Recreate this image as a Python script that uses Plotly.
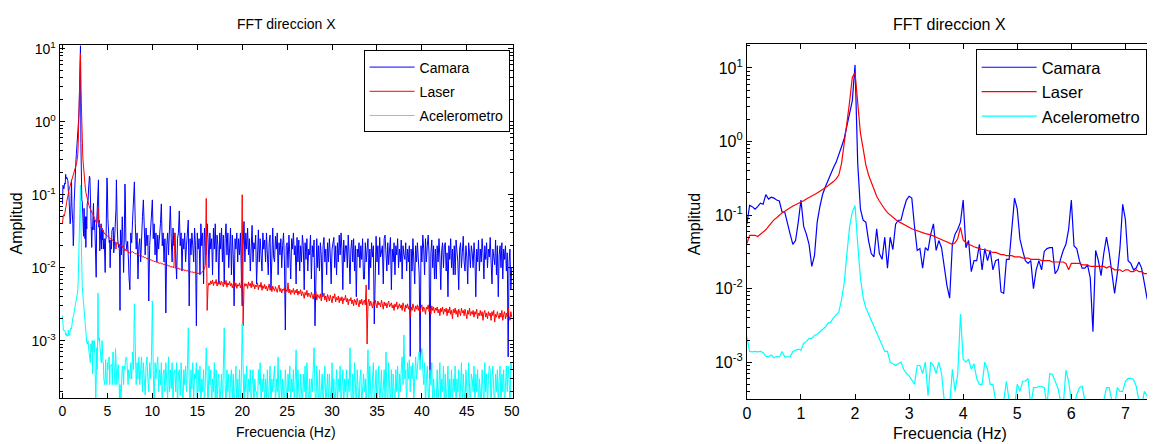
import numpy as np
import plotly.graph_objects as go

# ---------------- data ----------------
# frequency grids (Hz)
freq_lo = np.round(np.arange(0, 7.5 + 1e-9, 0.05), 2)    # 0 .. 7.5 Hz
freq_hi = np.round(np.arange(7.6, 50.0 + 1e-9, 0.1), 1)   # 7.6 .. 50 Hz

series_names = ["Camara", "Laser", "Acelerometro"]

camara_lo = [
    0.075, 0.135, 0.13, 0.12, 0.13, 0.145, 0.14, 0.19, 0.165, 0.175,
    0.17, 0.16, 0.155, 0.11, 0.11, 0.075, 0.055, 0.04, 0.045, 0.08,
    0.16, 0.07, 0.055, 0.04, 0.02, 0.028, 0.08, 0.13, 0.19, 0.24,
    0.3, 0.37, 0.44, 0.52, 0.65, 0.85, 1.1, 1.6, 2.5, 3.6,
    11.0, 0.5, 0.12, 0.085, 0.08, 0.045, 0.03, 0.027, 0.065, 0.03,
    0.025, 0.05, 0.019, 0.05, 0.034, 0.075, 0.085, 0.085, 0.12, 0.16,
    0.18, 0.17, 0.07, 0.033, 0.035, 0.019, 0.036, 0.033, 0.055, 0.076,
    0.033, 0.045, 0.036, 0.02, 0.011, 0.0074, 0.04, 0.055, 0.064, 0.08,
    0.16, 0.036, 0.045, 0.017, 0.024, 0.024, 0.04, 0.018, 0.035, 0.024,
    0.033, 0.018, 0.024, 0.025, 0.009, 0.0086, 0.025, 0.025, 0.068, 0.17,
    0.12, 0.047, 0.033, 0.024, 0.022, 0.024, 0.01, 0.018, 0.024, 0.018,
    0.032, 0.035, 0.036, 0.036, 0.016, 0.018, 0.025, 0.033, 0.04, 0.064,
    0.16, 0.038, 0.035, 0.024, 0.019, 0.019, 0.021, 0.014, 0.0026, 0.033,
    0.024, 0.015, 0.03, 0.05, 0.031, 0.015, 0.0086, 0.016, 0.036, 0.14,
    0.087, 0.024, 0.022, 0.018, 0.019, 0.023, 0.019, 0.012, 0.0074, 0.006,
    0.005,
]

laser_lo = [
    0.041, 0.053, 0.053, 0.053, 0.051, 0.055, 0.058, 0.063, 0.07, 0.078,
    0.086, 0.092, 0.1, 0.107, 0.113, 0.12, 0.127, 0.133, 0.138, 0.143,
    0.15, 0.156, 0.165, 0.172, 0.18, 0.19, 0.2, 0.21, 0.22, 0.235,
    0.25, 0.265, 0.285, 0.31, 0.35, 0.5, 0.9, 1.8, 3.5, 7.5,
    8.6, 3.0, 1.3, 0.8, 0.48, 0.35, 0.28, 0.22, 0.18, 0.155,
    0.135, 0.12, 0.108, 0.1, 0.093, 0.087, 0.082, 0.078, 0.074, 0.071,
    0.068, 0.065, 0.063, 0.061, 0.059, 0.057, 0.056, 0.055, 0.054, 0.052,
    0.05, 0.048, 0.047, 0.045, 0.043, 0.041, 0.04, 0.042, 0.048, 0.068,
    0.046, 0.042, 0.04, 0.039, 0.037, 0.036, 0.035, 0.034, 0.034, 0.033,
    0.032, 0.031, 0.031, 0.03, 0.029, 0.029, 0.028, 0.028, 0.028, 0.027,
    0.027, 0.027, 0.026, 0.026, 0.026, 0.025, 0.025, 0.025, 0.025, 0.024,
    0.024, 0.024, 0.024, 0.023, 0.023, 0.023, 0.023, 0.023, 0.022, 0.018,
    0.022, 0.022, 0.022, 0.022, 0.021, 0.021, 0.021, 0.02, 0.02, 0.02,
    0.02, 0.02, 0.02, 0.019, 0.02, 0.019, 0.018, 0.018, 0.018, 0.017,
    0.018, 0.018, 0.017, 0.017, 0.018, 0.017, 0.017, 0.016, 0.016, 0.016,
    0.016,
]

acel_lo = [
    0.0022, 0.0014, 0.00138, 0.0014, 0.00138, 0.0014, 0.00135, 0.0012, 0.00118, 0.00125,
    0.00115, 0.0012, 0.00117, 0.0014, 0.00118, 0.00117, 0.00118, 0.0014, 0.00145, 0.0015,
    0.00145, 0.0018, 0.0019, 0.0021, 0.0021, 0.0023, 0.0024, 0.0026, 0.0028, 0.003,
    0.0034, 0.0035, 0.004, 0.0044, 0.0048, 0.007, 0.012, 0.03, 0.07, 0.11,
    0.135, 0.04, 0.014, 0.0075, 0.0055, 0.0045, 0.0037, 0.003, 0.0025, 0.002,
    0.0017, 0.0014, 0.0014, 0.001, 0.00095, 0.0009, 0.00095, 0.001, 0.0008, 0.0007,
    0.00065, 0.00058, 0.0005, 0.0009, 0.0009, 0.0007, 0.001, 0.00035, 0.001, 0.0009,
    0.0007, 0.001, 0.0007, 0.0003, 0.00013, 0.00025, 0.0008, 0.0004, 0.0007, 0.0045,
    0.0011, 0.001, 0.0011, 0.0008, 0.00095, 0.0006, 0.0005, 0.0005, 0.001, 0.0008,
    0.0005, 0.0005, 0.0003, 0.00025, 0.00025, 0.0003, 0.00055, 0.0003, 0.00025, 0.00025,
    0.0005, 0.0004, 0.00055, 0.00055, 0.0006, 0.00025, 0.00045, 0.00045, 0.00047, 0.00047,
    0.00045, 0.00025, 0.0007, 0.00068, 0.00055, 0.00045, 0.0003, 0.00025, 0.00078, 0.00055,
    0.0003, 0.00025, 0.00036, 0.00045, 0.00047, 0.0003, 0.00025, 0.00015, 0.00025, 0.00022,
    0.00014, 0.00025, 0.0003, 0.00045, 0.00045, 0.0003, 0.00025, 0.00045, 0.0004, 0.0004,
    0.00055, 0.0006, 0.0006, 0.00058, 0.00047, 0.0003, 0.00025, 0.0004, 0.00035, 0.0003,
    0.0003,
]

# 7.6 .. 50 Hz, one row per Hz (row k starts at 7.6 + k Hz)
camara_hi = [
    0.03, 0.022, 0.045, 0.08, 0.15, 0.04, 0.018, 0.03, 0.007, 0.02,
    0.025, 0.012, 0.03, 0.05, 0.085, 0.03, 0.015, 0.035, 0.02, 0.028,
    0.0035, 0.02, 0.03, 0.045, 0.085, 0.025, 0.04, 0.015, 0.03, 0.012,
    0.028, 0.018, 0.035, 0.04, 0.075, 0.02, 0.03, 0.012, 0.025, 0.0024,
    0.02, 0.03, 0.015, 0.04, 0.07, 0.025, 0.012, 0.035, 0.02, 0.03,
    0.015, 0.007, 0.025, 0.03, 0.06, 0.02, 0.03, 0.009, 0.025, 0.018,
    0.03, 0.012, 0.02, 0.035, 0.045, 0.003, 0.025, 0.015, 0.03, 0.02,
    0.012, 0.035, 0.02, 0.0016, 0.03, 0.018, 0.025, 0.008, 0.04, 0.02,
    0.03, 0.006, 0.035, 0.02, 0.015, 0.04, 0.025, 0.01, 0.03, 0.018,
    0.025, 0.008, 0.035, 0.018, 0.04, 0.012, 0.028, 0.02, 0.006, 0.03,
    0.018, 0.035, 0.012, 0.028, 0.006, 0.025, 0.04, 0.015, 0.03, 0.01,
    0.02, 0.035, 0.008, 0.028, 0.015, 0.003, 0.025, 0.018, 0.03, 0.012,
    0.025, 0.015, 0.03, 0.01, 0.003, 0.02, 0.043, 0.012, 0.03, 0.018,
    0.035, 0.015, 0.025, 0.009, 0.03, 0.038, 0.012, 0.022, 0.018, 0.028,
    0.006, 0.02, 0.033, 0.012, 0.025, 0.015, 0.009, 0.03, 0.018, 0.024,
    0.012, 0.03, 0.016, 0.008, 0.022, 0.028, 0.005, 0.02, 0.035, 0.014,
    0.012, 0.027, 0.018, 0.03, 0.008, 0.022, 0.015, 0.025, 0.01, 0.02,
    0.03, 0.012, 0.0014, 0.02, 0.022, 0.01, 0.028, 0.015, 0.007, 0.025,
    0.018, 0.03, 0.015, 0.02, 0.006, 0.026, 0.012, 0.024, 0.009, 0.02,
    0.012, 0.028, 0.02, 0.005, 0.022, 0.013, 0.025, 0.009, 0.018, 0.015,
    0.028, 0.007, 0.02, 0.014, 0.024, 0.0016, 0.015, 0.025, 0.01, 0.02,
    0.009, 0.022, 0.015, 0.004, 0.02, 0.026, 0.012, 0.018, 0.008, 0.022,
    0.012, 0.025, 0.015, 0.006, 0.018, 0.022, 0.026, 0.01, 0.02, 0.008,
    0.022, 0.012, 0.028, 0.015, 0.03, 0.018, 0.005, 0.024, 0.012, 0.02,
    0.02, 0.01, 0.028, 0.015, 0.006, 0.018, 0.024, 0.012, 0.025, 0.009,
    0.02, 0.004, 0.018, 0.014, 0.022, 0.01, 0.02, 0.013, 0.025, 0.007,
    0.007, 0.022, 0.012, 0.018, 0.025, 0.005, 0.018, 0.01, 0.022, 0.014,
    0.02, 0.0017, 0.015, 0.027, 0.012, 0.02, 0.008, 0.026, 0.014, 0.018,
    0.02, 0.006, 0.025, 0.028, 0.015, 0.009, 0.022, 0.011, 0.018, 0.026,
    0.005, 0.018, 0.012, 0.022, 0.008, 0.02, 0.015, 0.025, 0.01, 0.018,
    0.012, 0.024, 0.007, 0.02, 0.015, 0.013, 0.022, 0.009, 0.018, 0.012,
    0.02, 0.00061, 0.018, 0.009, 0.025, 0.014, 0.006, 0.02, 0.012, 0.022,
    0.015, 0.008, 0.00055, 0.02, 0.012, 0.028, 0.018, 0.008, 0.025, 0.012,
    0.02, 0.028, 0.015, 0.0003, 0.016, 0.024, 0.01, 0.02, 0.007, 0.018,
    0.007, 0.02, 0.012, 0.025, 0.014, 0.005, 0.017, 0.022, 0.01, 0.02,
    0.022, 0.009, 0.016, 0.004, 0.02, 0.013, 0.025, 0.01, 0.018, 0.008,
    0.02, 0.008, 0.024, 0.015, 0.012, 0.005, 0.018, 0.022, 0.01, 0.016,
    0.027, 0.012, 0.009, 0.02, 0.014, 0.006, 0.022, 0.016, 0.01, 0.02,
    0.016, 0.01, 0.022, 0.014, 0.004, 0.018, 0.012, 0.024, 0.009, 0.018,
    0.012, 0.025, 0.016, 0.007, 0.02, 0.013, 0.022, 0.01, 0.018, 0.014,
    0.026, 0.012, 0.006, 0.018, 0.015, 0.011, 0.024, 0.008, 0.02, 0.004,
    0.015, 0.02, 0.01, 0.022, 0.007, 0.018, 0.013, 0.02, 0.009, 0.016,
    0.0006, 0.012, 0.018, 0.005, 0.01,
]

laser_hi = [
    0.0167, 0.0163, 0.0166, 0.016, 0.0158, 0.0155, 0.0157, 0.0151, 0.0152, 0.0148,
    0.0146, 0.0149, 0.0143, 0.0141, 0.0143, 0.0137, 0.0139, 0.0134, 0.0135, 0.0131,
    0.013, 0.0132, 0.0127, 0.0128, 0.0124, 0.0125, 0.0121, 0.0123, 0.0119, 0.012,
    0.0118, 0.0119, 0.0115, 0.0117, 0.0113, 0.0114, 0.0111, 0.0112, 0.0108, 0.011,
    0.0107, 0.0109, 0.0105, 0.0107, 0.0103, 0.0105, 0.0101, 0.0104, 0.0099, 0.03,
    0.0098, 0.0101, 0.0097, 0.0099, 0.0095, 0.0097, 0.0094, 0.0096, 0.0092, 0.0095,
    0.0091, 0.0093, 0.009, 0.0092, 0.0088, 0.009, 0.0087, 0.0089, 0.0086, 0.0088,
    0.0085, 0.0087, 0.0084, 0.0086, 0.0083, 0.0085, 0.0082, 0.0084, 0.0083, 0.0086,
    0.0088, 0.0092, 0.0098, 0.0108, 0.089, 0.0026, 0.0055, 0.0062, 0.0058, 0.0066,
    0.006, 0.0068, 0.0057, 0.0064, 0.0061, 0.0069, 0.0056, 0.0063, 0.0059, 0.0066,
    0.0058, 0.0065, 0.0061, 0.0055, 0.0064, 0.0059, 0.0067, 0.0054, 0.0062, 0.0058,
    0.0065, 0.0056, 0.0061, 0.0053, 0.006, 0.0064, 0.0055, 0.0062, 0.0052, 0.0059,
    0.0056, 0.0062, 0.0053, 0.0059, 0.1, 0.0016, 0.0054, 0.0061, 0.0056, 0.006,
    0.0052, 0.0064, 0.0057, 0.0061, 0.0053, 0.0066, 0.0055, 0.0059, 0.0051, 0.0058,
    0.0055, 0.0062, 0.005, 0.0058, 0.0054, 0.0063, 0.0049, 0.0057, 0.0052, 0.0059,
    0.0051, 0.0056, 0.0048, 0.0055, 0.006, 0.0049, 0.0054, 0.0047, 0.0056, 0.0051,
    0.0048, 0.0055, 0.005, 0.0046, 0.0053, 0.0058, 0.0047, 0.0052, 0.0045, 0.0051,
    0.0049, 0.0054, 0.0044, 0.005, 0.0047, 0.0062, 0.0045, 0.0051, 0.0043, 0.0049,
    0.0046, 0.0052, 0.0043, 0.0049, 0.0045, 0.0051, 0.0042, 0.0048, 0.0044, 0.005,
    0.0041, 0.0047, 0.0044, 0.0038, 0.0046, 0.0042, 0.0049, 0.004, 0.0045, 0.0043,
    0.0039, 0.0046, 0.0042, 0.0037, 0.0044, 0.004, 0.0047, 0.0036, 0.0043, 0.0041,
    0.0038, 0.0044, 0.0035, 0.0042, 0.004, 0.0045, 0.0036, 0.0041, 0.0034, 0.0043,
    0.0039, 0.0035, 0.0042, 0.0037, 0.0033, 0.0041, 0.0038, 0.0044, 0.0034, 0.0039,
    0.0036, 0.0041, 0.0033, 0.0039, 0.0035, 0.004, 0.0032, 0.0038, 0.0036, 0.0042,
    0.0034, 0.0038, 0.0031, 0.0037, 0.0035, 0.0039, 0.0032, 0.0036, 0.003, 0.0037,
    0.0035, 0.0031, 0.0038, 0.0033, 0.0029, 0.0036, 0.0032, 0.0037, 0.0031, 0.0034,
    0.0036, 0.0031, 0.0058, 0.0009, 0.0033, 0.0037, 0.003, 0.0035, 0.0032, 0.0028,
    0.0034, 0.003, 0.0036, 0.0032, 0.0028, 0.0035, 0.0031, 0.0033, 0.0029, 0.0036,
    0.0031, 0.0027, 0.0034, 0.003, 0.0033, 0.0028, 0.0032, 0.0035, 0.0029, 0.0031,
    0.0033, 0.0028, 0.0031, 0.0026, 0.0032, 0.0029, 0.0034, 0.0027, 0.003, 0.0032,
    0.0028, 0.0031, 0.0026, 0.0033, 0.0029, 0.0025, 0.0031, 0.0028, 0.0032, 0.0027,
    0.003, 0.0021, 0.0029, 0.0026, 0.0032, 0.0028, 0.0025, 0.003, 0.0027, 0.0031,
    0.0026, 0.003, 0.0024, 0.0028, 0.0031, 0.0025, 0.0029, 0.0027, 0.0023, 0.0029,
    0.0027, 0.0031, 0.0025, 0.0028, 0.0023, 0.003, 0.0026, 0.0029, 0.0024, 0.0028,
    0.0026, 0.0029, 0.0024, 0.0027, 0.0022, 0.0028, 0.0025, 0.0029, 0.0023, 0.0027,
    0.0025, 0.0028, 0.0022, 0.0027, 0.0024, 0.0029, 0.0023, 0.0026, 0.002, 0.0027,
    0.0024, 0.0028, 0.0023, 0.0026, 0.0021, 0.0027, 0.0025, 0.0022, 0.0028, 0.0024,
    0.0026, 0.0022, 0.0027, 0.0024, 0.002, 0.0026, 0.0023, 0.0028, 0.0022, 0.0025,
    0.0023, 0.0026, 0.0021, 0.0025, 0.0023, 0.0027, 0.002, 0.0024, 0.0022, 0.0026,
    0.0022, 0.0025, 0.0019, 0.0024, 0.0026, 0.0021, 0.0024, 0.002, 0.0025, 0.0022,
    0.0024, 0.0019, 0.0025, 0.0022, 0.0026, 0.0018, 0.0023, 0.0021, 0.0025, 0.0022,
    0.002, 0.0024, 0.0021, 0.0026, 0.0019, 0.0023, 0.0025, 0.002, 0.0024, 0.0021,
    0.0028, 0.0022, 0.0019, 0.0025, 0.0021,
]

acel_hi = [
    0.0005, 0.0003, 0.0007, 0.0004, 0.0032, 0.0006, 0.00025, 0.0005, 0.0003, 0.0006,
    0.00025, 0.0004, 0.0006, 0.0002, 0.0005, 0.0003, 0.00018, 0.00045, 0.0006, 0.0003,
    0.0002, 0.0005, 0.0003, 0.0006, 0.0035, 0.0004, 0.00012, 0.0005, 0.0003, 0.00045,
    0.0006, 0.0002, 0.0004, 0.00025, 0.0005, 0.00012, 0.00035, 0.0004, 0.0002, 0.0005,
    0.0003, 0.00015, 0.0006, 0.0002, 0.0004, 0.00022, 0.0005, 0.00012, 0.00035, 0.0004,
    0.0002, 0.0005, 0.00012, 0.00035, 0.0004, 0.00018, 0.0005, 0.0003, 0.00012, 0.0004,
    0.00025, 0.00045, 0.0002, 0.0004, 0.0015, 0.0003, 0.00012, 0.0004, 0.00022, 0.0005,
    0.00015, 0.00035, 0.0003, 0.0005, 0.00012, 0.0004, 0.0002, 0.00045, 0.00012, 0.0003,
    0.0002, 0.0004, 0.00012, 0.0003, 0.0008, 0.0003, 0.00012, 0.00045, 0.00025, 0.0004,
    0.00012, 0.0003, 0.0002, 0.0005, 0.00015, 0.0004, 0.00012, 0.0003, 0.00035, 0.00012,
    0.0002, 0.00035, 0.00012, 0.0004, 0.0015, 0.00025, 0.00012, 0.0004, 0.0002, 0.00035,
    0.00012, 0.0003, 0.0004, 0.00015, 0.00035, 0.00012, 0.0003, 0.00045, 0.00012, 0.0003,
    0.00015, 0.0004, 0.00012, 0.0003, 0.0017, 0.0003, 0.00012, 0.00035, 0.0002, 0.00045,
    0.00012, 0.0003, 0.0002, 0.0004, 0.00012, 0.00025, 0.0004, 0.00012, 0.0003, 0.0002,
    0.0002, 0.00012, 0.0004, 0.00025, 0.0005, 0.00012, 0.0003, 0.0002, 0.00035, 0.00012,
    0.0003, 0.00015, 0.0004, 0.00012, 0.00025, 0.00045, 0.00012, 0.0003, 0.0002, 0.0004,
    0.00045, 0.00012, 0.0003, 0.0002, 0.0006, 0.00012, 0.00025, 0.0004, 0.00012, 0.0003,
    0.0002, 0.00012, 0.0004, 0.00025, 0.00012, 0.00035, 0.0002, 0.00045, 0.00012, 0.0003,
    0.0002, 0.0004, 0.00012, 0.0003, 0.00075, 0.00012, 0.0004, 0.0002, 0.00012, 0.00035,
    0.0002, 0.00012, 0.00035, 0.0002, 0.00045, 0.00012, 0.0005, 0.0002, 0.00012, 0.0003,
    0.00012, 0.0003, 0.0002, 0.0004, 0.0008, 0.0002, 0.00012, 0.00045, 0.00025, 0.00012,
    0.0004, 0.00012, 0.0002, 0.00035, 0.00012, 0.0003, 0.00045, 0.00012, 0.0002, 0.00035,
    0.00012, 0.00035, 0.0002, 0.00012, 0.0005, 0.00015, 0.0003, 0.00012, 0.0002, 0.0004,
    0.00012, 0.0003, 0.0002, 0.00045, 0.00012, 0.00025, 0.0004, 0.00012, 0.0003, 0.0002,
    0.0004, 0.00012, 0.0003, 0.0002, 0.0008, 0.0002, 0.00012, 0.00035, 0.00012, 0.0005,
    0.0002, 0.00012, 0.0004, 0.0002, 0.00012, 0.0003, 0.0004, 0.00012, 0.0002, 0.00035,
    0.0002, 0.0003, 0.00012, 0.00045, 0.00075, 0.00015, 0.00045, 0.0002, 0.00012, 0.0003,
    0.0005, 0.00012, 0.0002, 0.0004, 0.00012, 0.0003, 0.00045, 0.00012, 0.0002, 0.0004,
    0.00012, 0.0003, 0.0004, 0.00015, 0.0007, 0.0002, 0.00012, 0.0005, 0.00025, 0.00012,
    0.0004, 0.00012, 0.00035, 0.0002, 0.00012, 0.0004, 0.0002, 0.00045, 0.00012, 0.00035,
    0.0002, 0.0004, 0.0006, 0.00025, 0.0012, 0.0003, 0.0004, 0.00012, 0.0005, 0.0003,
    0.00055, 0.0002, 0.00045, 0.0003, 0.0005, 0.00015, 0.0004, 0.0006, 0.0003, 0.0005,
    0.0006, 0.0007, 0.0004, 0.00065, 0.00078, 0.0004, 0.00025, 0.0005, 0.00012, 0.0003,
    0.00045, 0.0002, 0.00012, 0.0004, 0.00025, 0.0005, 0.00012, 0.0003, 0.0002, 0.00012,
    0.00015, 0.0004, 0.00012, 0.00025, 0.0005, 0.00015, 0.0003, 0.0002, 0.00045, 0.00012,
    0.00035, 0.00012, 0.0002, 0.00045, 0.00012, 0.0003, 0.00015, 0.0004, 0.00012, 0.0003,
    0.0002, 0.00045, 0.00012, 0.0003, 0.0002, 0.0004, 0.00012, 0.00025, 0.0005, 0.00012,
    0.00035, 0.0002, 0.00012, 0.0004, 0.00025, 0.00012, 0.0005, 0.0002, 0.00012, 0.00035,
    0.0003, 0.0002, 0.00045, 0.00012, 0.00035, 0.0002, 0.0004, 0.00012, 0.0003, 0.0002,
    0.00012, 0.0004, 0.00025, 0.00012, 0.0005, 0.0002, 0.00035, 0.00012, 0.0003, 0.00045,
    0.0004, 0.00012, 0.0003, 0.00045, 0.0002, 0.00012, 0.00035, 0.0002, 0.0004, 0.00012,
    0.0003, 0.00045, 0.00012, 0.00035, 0.0002, 0.0004, 0.00012, 0.0003, 0.00045, 0.0002,
    0.00045, 0.0003, 0.00012, 0.0005, 0.0004,
]

y_tick_vals = [1e-3, 1e-2, 1e-1, 1, 10]
y_tick_text = ["10<sup>-3</sup>", "10<sup>-2</sup>", "10<sup>-1</sup>",
               "10<sup>0</sup>", "10<sup>1</sup>"]

for arr in (camara_lo, laser_lo, acel_lo):
    assert len(arr) == len(freq_lo), len(arr)
for arr in (camara_hi, laser_hi, acel_hi):
    assert len(arr) == len(freq_hi), (len(arr), len(freq_hi))

freq_all = np.concatenate([freq_lo, freq_hi])
left_series = [camara_lo + camara_hi, laser_lo + laser_hi, acel_lo + acel_hi]
right_series = [camara_lo, laser_lo, acel_lo]

# ---------------- layout helpers ----------------
# the page body adds an 8px offset; the figure covers page pixels 8..1155 x 8..444
OFF = 8
W, H = 1155 - OFF, 444 - OFF
def px(xp):
    return (xp - OFF) / W
def py(yp):
    return 1 - (yp - OFF) / H

colors = ["#0000ff", "#ff0000", "#00ffff"]
FONT = "Liberation Sans, Arial, Helvetica, sans-serif"
FS_L, FS_R = 14, 16

minor_vals = [m * 10.0 ** e for e in range(-4, 2) for m in range(2, 10)]

fig = go.Figure()
for name, ys, c in zip(series_names, left_series, colors):
    fig.add_trace(go.Scatter(x=freq_all, y=ys, name=name, mode="lines",
                             line=dict(color=c, width=1),
                             xaxis="x", yaxis="y", legend="legend",
                             legendgroup="L" + name))
for name, ys, c in zip(series_names, right_series, colors):
    fig.add_trace(go.Scatter(x=freq_lo, y=ys, name=name, mode="lines",
                             line=dict(color=c, width=1.2),
                             xaxis="x2", yaxis="y2", legend="legend2",
                             legendgroup="R" + name))

common = dict(showline=True, linecolor="black", linewidth=1, ticks="inside",
              tickcolor="black", ticklen=5, showgrid=False, zeroline=False)

def ylog(rng, domain, anchor, fs, mirror):
    return dict(type="log", range=rng, domain=domain, anchor=anchor,
                tickmode="array", tickvals=y_tick_vals, ticktext=y_tick_text,
                tickfont=dict(family=FONT, size=fs, color="black"),
                minor=dict(tickmode="array", tickvals=minor_vals, ticks="inside",
                           ticklen=3, tickcolor="black"),
                mirror=mirror, **common)

fig.update_layout(
    width=W, height=H, margin=dict(l=0, r=0, t=0, b=0),
    paper_bgcolor="white", plot_bgcolor="white",
    showlegend=True,
    xaxis=dict(domain=[px(56), px(513.5)], range=[-0.33, 50.1], anchor="y",
               tickmode="linear", tick0=0, dtick=5, mirror="ticks",
               tickfont=dict(family=FONT, size=FS_L, color="black"), **common),
    yaxis=ylog([-3.79, 1.054], [py(397.7), py(39.3)], "x", FS_L, "ticks"),
    xaxis2=dict(domain=[px(750), 1.0], range=[0, 7.418], anchor="y2",
                tickmode="linear", tick0=0, dtick=1, mirror="ticks",
                tickfont=dict(family=FONT, size=FS_R, color="black"), **common),
    yaxis2=ylog([-3.5, 1.327], [py(398.3), py(38.3)], "x2", FS_R, False),
    legend=dict(x=px(363), y=py(45), xanchor="left", yanchor="top",
                bgcolor="white", bordercolor="black", borderwidth=1,
                font=dict(family=FONT, size=FS_L, color="black"),
                traceorder="grouped", tracegroupgap=3, itemwidth=45),
    legend2=dict(x=px(981), y=py(43.5), xanchor="left", yanchor="top",
                 bgcolor="white", bordercolor="black", borderwidth=1,
                 font=dict(family=FONT, size=16.5, color="black"),
                 traceorder="grouped", tracegroupgap=0, itemwidth=55),
)

fL = dict(family=FONT, size=FS_L, color="black")
fR = dict(family=FONT, size=FS_R, color="black")
annotations = [
    dict(text="FFT direccion X", x=px(285), y=py(18.3), font=fL),
    dict(text="FFT direccion X", x=px(955), y=py(18.3), font=fR),
    dict(text="Frecuencia (Hz)", x=px(285), y=py(432), font=fL),
    dict(text="Frecuencia (Hz)", x=px(955), y=py(433), font=fR),
    dict(text="Amplitud", x=px(12.5), y=py(220), textangle=-90, font=fR),
    dict(text="Amplitud", x=px(696.7), y=py(221), textangle=-90, font=fR),
]
for a in annotations:
    fig.add_annotation(xref="paper", yref="paper", showarrow=False,
                       xanchor="center", yanchor="middle", **a)

fig.write_html("out.html")
